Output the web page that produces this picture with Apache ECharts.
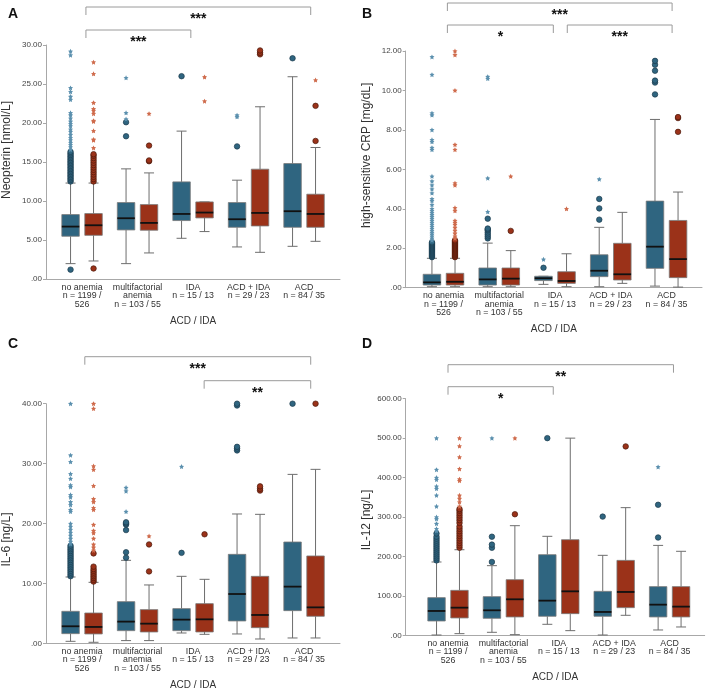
<!DOCTYPE html>
<html>
<head>
<meta charset="utf-8">
<script src="https://cdn.jsdelivr.net/npm/echarts@6/dist/echarts.min.js"></script>
<style>
  html, body { margin: 0; padding: 0; background: #fff; }
  #chart { width: 708px; height: 694px; }
</style>
</head>
<body>
<div id="chart"></div>
<script>
// groups on the x axis
const categories = [
  'no anemia\nn = 1199 /\n526',
  'multifactorial\nanemia\nn = 103 / 55',
  'IDA\nn = 15 / 13',
  'ACD + IDA\nn = 29 / 23',
  'ACD\nn = 84 / 35'
];

// box = [lower whisker, q1, median, q3, upper whisker], one per group
// out = circles [group, value], ext = stars [group, value]

// A - Neopterin
const neoBlueBox = [[1.97, 5.48, 6.72, 8.26, 12.3], [1.97, 6.29, 7.79, 9.8, 14.12], [5.22, 7.49, 8.34, 12.45, 18.96], [4.11, 6.63, 7.66, 9.8, 12.67], [4.19, 6.63, 8.69, 14.8, 25.93]];
const neoRedBox = [[2.31, 5.6, 6.89, 8.39, 12.3], [3.34, 6.25, 7.19, 9.54, 13.6], [6.08, 7.83, 8.52, 9.88, 9.88], [3.42, 6.8, 8.47, 14.08, 22.08], [4.83, 6.63, 8.34, 10.87, 16.86]];
const neoBlueOut = [[0, 1.2], [0, 12.5], [0, 12.7], [0, 12.9], [0, 13.1], [0, 13.3], [0, 13.5], [0, 13.7], [0, 13.9], [0, 14.1], [0, 14.3], [0, 14.5], [0, 14.7], [0, 14.9], [0, 15.1], [0, 15.3], [0, 15.5], [0, 15.7], [0, 15.9], [0, 16.1], [0, 16.3], [1, 18.3], [1, 20.1], [2, 26.0], [3, 17.0], [4, 28.3]];
const neoBlueExt = [[0, 16.6], [0, 16.9], [0, 17.2], [0, 17.5], [0, 17.8], [0, 18.1], [0, 18.5], [0, 18.9], [0, 19.2], [0, 19.6], [0, 19.9], [0, 20.2], [0, 20.6], [0, 21.0], [0, 21.3], [0, 23.0], [0, 23.4], [0, 24.0], [0, 24.5], [0, 28.7], [0, 29.2], [1, 20.5], [1, 21.3], [1, 25.8], [3, 20.8], [3, 21.0]];
const neoRedOut = [[0, 1.35], [0, 12.5], [0, 12.8], [0, 13.1], [0, 13.4], [0, 13.7], [0, 14.0], [0, 14.3], [0, 14.6], [0, 14.9], [0, 15.2], [0, 15.5], [0, 15.8], [0, 16.0], [1, 15.1], [1, 15.2], [1, 17.1], [3, 28.8], [3, 29.0], [3, 29.3], [4, 17.7], [4, 22.2]];
const neoRedExt = [[0, 16.8], [0, 17.8], [0, 17.9], [0, 19.0], [0, 20.2], [0, 20.3], [0, 21.2], [0, 21.6], [0, 21.8], [0, 22.6], [0, 26.3], [0, 27.8], [1, 21.2], [2, 22.8], [2, 25.9], [4, 25.5]];

// B - high-sensitive CRP
const crpBlueBox = [[0.05, 0.135, 0.27, 0.68, 1.49], [0.05, 0.135, 0.42, 1.0, 2.26], [0.17, 0.36, 0.48, 0.58, 0.58], [0.05, 0.56, 0.86, 1.67, 3.06], [0.08, 0.98, 2.08, 4.39, 8.53]];
const crpRedBox = [[0.05, 0.135, 0.30, 0.73, 1.49], [0.05, 0.135, 0.46, 1.0, 1.88], [0.05, 0.22, 0.34, 0.81, 1.72], [0.22, 0.39, 0.68, 2.25, 3.82], [0.03, 0.51, 1.45, 3.41, 4.85]];
const crpBlueOut = [[0, 1.55], [0, 1.6], [0, 1.65], [0, 1.7], [0, 1.75], [0, 1.8], [0, 1.85], [0, 1.9], [0, 1.95], [0, 2.0], [0, 2.05], [0, 2.1], [0, 2.15], [0, 2.2], [0, 2.25], [0, 2.3], [1, 2.5], [1, 2.6], [1, 2.7], [1, 2.8], [1, 2.9], [1, 2.95], [1, 3.0], [1, 3.5], [2, 1.01], [3, 3.45], [3, 4.02], [3, 4.5], [4, 9.8], [4, 10.4], [4, 10.5], [4, 11.0], [4, 11.3], [4, 11.5]];
const crpBlueExt = [[0, 2.4], [0, 2.5], [0, 2.6], [0, 2.7], [0, 2.8], [0, 2.9], [0, 3.0], [0, 3.1], [0, 3.2], [0, 3.3], [0, 3.4], [0, 3.5], [0, 3.6], [0, 3.7], [0, 3.8], [0, 3.9], [0, 4.0], [0, 4.2], [0, 4.4], [0, 4.5], [0, 4.8], [0, 5.0], [0, 5.2], [0, 5.4], [0, 5.65], [0, 7.0], [0, 7.1], [0, 7.4], [0, 7.5], [0, 8.0], [0, 8.75], [0, 8.85], [0, 10.8], [0, 11.7], [1, 3.85], [1, 5.55], [1, 10.6], [1, 10.7], [2, 1.44], [3, 5.5]];
const crpRedOut = [[0, 1.55], [0, 1.6], [0, 1.65], [0, 1.7], [0, 1.75], [0, 1.8], [0, 1.85], [0, 1.9], [0, 1.95], [0, 2.0], [0, 2.05], [0, 2.1], [0, 2.15], [0, 2.2], [0, 2.25], [0, 2.3], [0, 2.35], [0, 2.4], [1, 2.88], [4, 7.9], [4, 8.6], [4, 8.65]];
const crpRedExt = [[0, 2.5], [0, 2.6], [0, 2.75], [0, 2.9], [0, 3.05], [0, 3.2], [0, 3.3], [0, 3.4], [0, 3.9], [0, 4.05], [0, 5.2], [0, 5.3], [0, 7.0], [0, 7.25], [0, 10.0], [0, 11.8], [0, 12.0], [1, 5.65], [2, 4.0]];

// C - IL-6
const il6BlueBox = [[0.33, 1.61, 2.84, 5.34, 11.07], [0.45, 2.11, 3.62, 6.95, 13.85], [1.72, 2.11, 3.95, 5.79, 11.18], [1.56, 3.73, 8.23, 14.85, 21.59], [0.89, 5.45, 9.46, 16.91, 28.2]];
const il6RedBox = [[0.17, 1.56, 2.73, 5.06, 10.18], [0.45, 1.89, 3.28, 5.62, 9.74], [1.5, 1.89, 4.0, 6.62, 10.68], [0.72, 2.61, 4.73, 11.18, 21.53], [0.89, 4.51, 6.0, 14.58, 29.04]];
const il6BlueOut = [[0, 11.2], [0, 11.5], [0, 11.8], [0, 12.1], [0, 12.4], [0, 12.7], [0, 13.0], [0, 13.3], [0, 13.6], [0, 13.9], [0, 14.2], [0, 14.5], [0, 14.8], [0, 15.1], [0, 15.4], [0, 15.7], [0, 16.0], [0, 16.3], [1, 14.3], [1, 15.2], [1, 18.9], [1, 19.8], [1, 20.0], [1, 20.2], [2, 15.1], [3, 32.2], [3, 32.5], [3, 32.8], [3, 39.7], [3, 40], [4, 40]];
const il6BlueExt = [[0, 16.6], [0, 17.0], [0, 17.5], [0, 18.0], [0, 18.5], [0, 19.0], [0, 19.5], [0, 20.0], [0, 22.0], [0, 22.3], [0, 23.1], [0, 23.6], [0, 24.4], [0, 24.8], [0, 26.1], [0, 26.4], [0, 27.5], [0, 28.3], [0, 30.3], [0, 31.4], [0, 40], [1, 22.0], [1, 25.4], [1, 26.0], [2, 29.5]];
const il6RedOut = [[0, 10.3], [0, 10.6], [0, 10.9], [0, 11.2], [0, 11.5], [0, 11.8], [0, 12.1], [0, 12.4], [0, 12.8], [0, 15.0], [1, 12.0], [1, 16.5], [2, 18.2], [3, 25.5], [3, 25.8], [3, 26.2], [4, 40]];
const il6RedExt = [[0, 15.5], [0, 16.0], [0, 16.5], [0, 17.5], [0, 18.4], [0, 18.8], [0, 19.8], [0, 22.3], [0, 22.6], [0, 23.6], [0, 24.1], [0, 26.3], [0, 29.0], [0, 29.6], [0, 39.2], [0, 40], [1, 17.9]];

// D - IL-12
const il12BlueBox = [[0.8, 36.3, 61.7, 95.5, 185.9], [7.6, 43.1, 63.4, 98, 176.6], [27.9, 48.2, 87.9, 204.5, 251], [0.8, 48.2, 59.2, 111.5, 202.8], [13.5, 46.5, 77.7, 123.4, 228]];
const il12RedBox = [[4.2, 44, 70.1, 114, 217], [1.7, 46.5, 91.3, 141, 278], [11.8, 54.9, 111.5, 242.5, 500], [50.7, 70.1, 109.9, 190, 323.7], [21.1, 46.5, 72.7, 123.4, 213]];
const il12BlueOut = [[0, 190], [0, 195], [0, 200], [0, 205], [0, 210], [0, 215], [0, 220], [0, 225], [0, 230], [0, 235], [0, 240], [0, 245], [0, 250], [0, 258], [1, 186], [1, 222], [1, 230], [1, 250], [2, 500], [3, 301], [4, 248], [4, 331]];
const il12BlueExt = [[0, 265], [0, 270], [0, 283], [0, 295], [0, 300], [0, 327], [0, 355], [0, 372], [0, 378], [0, 395], [0, 400], [0, 420], [0, 500], [1, 500], [4, 427]];
const il12RedOut = [[0, 222], [0, 228], [0, 234], [0, 240], [0, 246], [0, 252], [0, 258], [0, 264], [0, 270], [0, 276], [0, 285], [0, 292], [0, 298], [0, 304], [0, 310], [0, 316], [0, 320], [1, 307], [3, 479]];
const il12RedExt = [[0, 327], [0, 338], [0, 347], [0, 355], [0, 392], [0, 396], [0, 422], [0, 452], [0, 480], [0, 500], [1, 500]];

// significance brackets: [from group, to group, label]
const neoBrackets = [[0.07, 4.12, '***'], [0.07, 1.96, '***']];
const crpBrackets = [[0.07, 4.1, '***'], [0.07, 1.97, '*'], [2.22, 4.1, '***']];
const il6Brackets = [[0.05, 4.12, '***'], [2.2, 4.12, '**']];
const il12Brackets = [[0.0, 4.07, '**'], [0.0, 1.9, '*']];

// axis names and ranges
const yNames = ['Neopterin [nmol/L]', 'high-sensitive CRP [mg/dL]', 'IL-6 [ng/L]', 'IL-12 [ng/L]'];
const yMax = [30, 12, 40, 600];
const yStep = [5, 2, 10, 100];
const panelLetters = ['A', 'B', 'C', 'D'];

const BLUE = '#2f6580', RED = '#9b3219';
const BLUE_STAR = '#5b90ae', RED_STAR = '#cf6b4c';
const STAR = 'path://M0,-10L2.94,-4.05L9.51,-3.09L4.76,1.55L5.88,8.09L0,5L-5.88,8.09L-4.76,1.55L-9.51,-3.09L-2.94,-4.05Z';

// layout of each panel (outer = axis frame, inner = category band)
// nameShift: how far the y title sits above (+) or below (-) the axis middle
const panels = [
  { outer: [45, 45, 295, 234], inner: [54.3, 277.5], rise: [38, 15], nameShift: 12 },
  { outer: [405.7, 51, 296.3, 236.7], inner: [415.6, 278.8], rise: [48, 26, 26], nameShift: 14 },
  { outer: [45, 403.7, 295, 239.6], inner: [54.3, 277.5], rise: [47, 23], nameShift: -16 },
  { outer: [405.7, 398.7, 299, 236.6], inner: [420.3, 277], rise: [34, 12], nameShift: -3 }
];
const panelData = [
  [neoBlueBox, neoRedBox, neoBlueOut, neoBlueExt, neoRedOut, neoRedExt, neoBrackets],
  [crpBlueBox, crpRedBox, crpBlueOut, crpBlueExt, crpRedOut, crpRedExt, crpBrackets],
  [il6BlueBox, il6RedBox, il6BlueOut, il6BlueExt, il6RedOut, il6RedExt, il6Brackets],
  [il12BlueBox, il12RedBox, il12BlueOut, il12BlueExt, il12RedOut, il12RedExt, il12Brackets]
];

function yLabel(v) {
  return v === 0 ? '.00' : v.toFixed(2);
}

// box + whiskers drawn through the axes, shifted left/right inside the band
function boxRender(shift, fill) {
  return function (params, api) {
    const band = api.size([1, 0])[0];
    const cat = api.value(0);
    const cx = api.coord([cat, 0])[0] + shift * band;
    const y = k => api.coord([cat, api.value(k)])[1];
    const lo = y(1), q1 = y(2), md = y(3), q3 = y(4), hi = y(5);
    const w = band * 0.315, cap = band * 0.09;
    const ln = { stroke: '#6e6e6e', lineWidth: 1 };
    return {
      type: 'group',
      children: [
        { type: 'line', shape: { x1: cx, y1: lo, x2: cx, y2: q1 }, style: ln },
        { type: 'line', shape: { x1: cx, y1: q3, x2: cx, y2: hi }, style: ln },
        { type: 'line', shape: { x1: cx - cap, y1: lo, x2: cx + cap, y2: lo }, style: ln },
        { type: 'line', shape: { x1: cx - cap, y1: hi, x2: cx + cap, y2: hi }, style: ln },
        { type: 'rect', shape: { x: cx - w / 2, y: q3, width: w, height: Math.max(q1 - q3, 0.5) },
          style: { fill: fill, stroke: '#7a7a7a', lineWidth: 0.8 } },
        { type: 'line', shape: { x1: cx - w / 2, y1: md, x2: cx + w / 2, y2: md },
          style: { stroke: '#111', lineWidth: 1.8 } }
      ]
    };
  };
}

function bracketRender(rise, list) {
  return function (params, api) {
    const band = api.size([1, 0])[0];
    const xAt = v => api.coord([Math.floor(v), 0])[0] + (v - Math.floor(v)) * band;
    const x1 = xAt(api.value(0)), x2 = xAt(api.value(1));
    const yt = params.coordSys.y - rise[params.dataIndex];
    return {
      type: 'group',
      children: [
        { type: 'polyline', shape: { points: [[x1, yt + 8], [x1, yt], [x2, yt], [x2, yt + 8]] },
          style: { stroke: '#9a9a9a', lineWidth: 1, fill: null } },
        { type: 'text', style: { text: list[params.dataIndex][2], x: (x1 + x2) / 2, y: yt + 5, align: 'center',
          verticalAlign: 'top', font: 'bold 14px "Liberation Sans", Arial, sans-serif', fill: '#111' } }
      ]
    };
  };
}

const grid = [], xAxis = [], yAxis = [], series = [], title = [];
panels.forEach((p, i) => {
  const [left, top, width, height] = p.outer;
  grid.push({ left: left, top: top, width: width, height: height });
  grid.push({ left: p.inner[0], top: top, width: p.inner[1], height: height });
  const go = 2 * i, gi = 2 * i + 1;
  const s = p.nameShift;

  xAxis.push({
    gridIndex: go, type: 'value', min: 0, max: 1,
    axisLine: { show: true, lineStyle: { color: '#a8a8a8', width: 1 } },
    axisTick: { show: false }, axisLabel: { show: false }, splitLine: { show: false },
    name: 'ACD / IDA', nameLocation: 'middle', nameGap: 37,
    nameTextStyle: { fontSize: 10, color: '#333' }
  });
  xAxis.push({
    gridIndex: gi, type: 'category', data: categories,
    axisLine: { show: false }, axisTick: { show: false },
    axisLabel: { interval: 0, fontSize: 8.8, lineHeight: 8.5, color: '#333', margin: 4 }
  });
  yAxis.push({
    gridIndex: go, type: 'value', min: 0, max: yMax[i], interval: yStep[i],
    axisLine: { show: true, lineStyle: { color: '#a8a8a8', width: 1 } },
    axisTick: { show: true, length: 3, lineStyle: { color: '#a8a8a8' } },
    axisLabel: { fontSize: 8, color: '#444', margin: 4, formatter: yLabel },
    splitLine: { show: false },
    name: yNames[i], nameLocation: 'middle', nameGap: 33,
    nameTextStyle: { fontSize: 12, color: '#333',
      padding: [0, s < 0 ? -2 * s : 0, 0, s > 0 ? 2 * s : 0] }
  });
  yAxis.push({ gridIndex: gi, type: 'value', min: 0, max: yMax[i], show: false });

  const [bBox, rBox, bOut, bExt, rOut, rExt, brackets] = panelData[i];
  const ax = { xAxisIndex: gi, yAxisIndex: gi };
  series.push(Object.assign({ type: 'custom', renderItem: boxRender(-0.207, BLUE),
    encode: { x: 0, y: [1, 2, 3, 4, 5] }, data: bBox.map((b, k) => [k].concat(b)) }, ax));
  series.push(Object.assign({ type: 'custom', renderItem: boxRender(0.207, RED),
    encode: { x: 0, y: [1, 2, 3, 4, 5] }, data: rBox.map((b, k) => [k].concat(b)) }, ax));
  series.push(Object.assign({ type: 'scatter', data: bOut, symbol: 'circle', symbolSize: 5.5,
    symbolOffset: [-11.5, 0], itemStyle: { color: BLUE, borderColor: '#1b3a4a', borderWidth: 0.7, opacity: 1 } }, ax));
  series.push(Object.assign({ type: 'scatter', data: bExt, symbol: STAR, symbolSize: 5,
    symbolOffset: [-11.5, 0], itemStyle: { color: BLUE_STAR, opacity: 1 } }, ax));
  series.push(Object.assign({ type: 'scatter', data: rOut, symbol: 'circle', symbolSize: 5.5,
    symbolOffset: [11.5, 0], itemStyle: { color: RED, borderColor: '#4a1a0c', borderWidth: 0.7, opacity: 1 } }, ax));
  series.push(Object.assign({ type: 'scatter', data: rExt, symbol: STAR, symbolSize: 5,
    symbolOffset: [11.5, 0], itemStyle: { color: RED_STAR, opacity: 1 } }, ax));
  series.push(Object.assign({ type: 'custom', renderItem: bracketRender(p.rise, brackets), clip: false,
    encode: { x: [0, 1] }, data: brackets.map(b => [b[0], b[1]]), silent: true, z: 5 }, ax));

  title.push({
    text: panelLetters[i], left: i % 2 === 0 ? 3 : 357, top: i < 2 ? 2 : 332,
    textStyle: { fontSize: 14, fontWeight: 'bold', color: '#111' }
  });
});

const chart = echarts.init(document.getElementById('chart'));
chart.setOption({
  animation: false,
  textStyle: { fontFamily: '"Liberation Sans", Arial, sans-serif' },
  title: title,
  grid: grid,
  xAxis: xAxis,
  yAxis: yAxis,
  series: series
});
</script>
</body>
</html>
